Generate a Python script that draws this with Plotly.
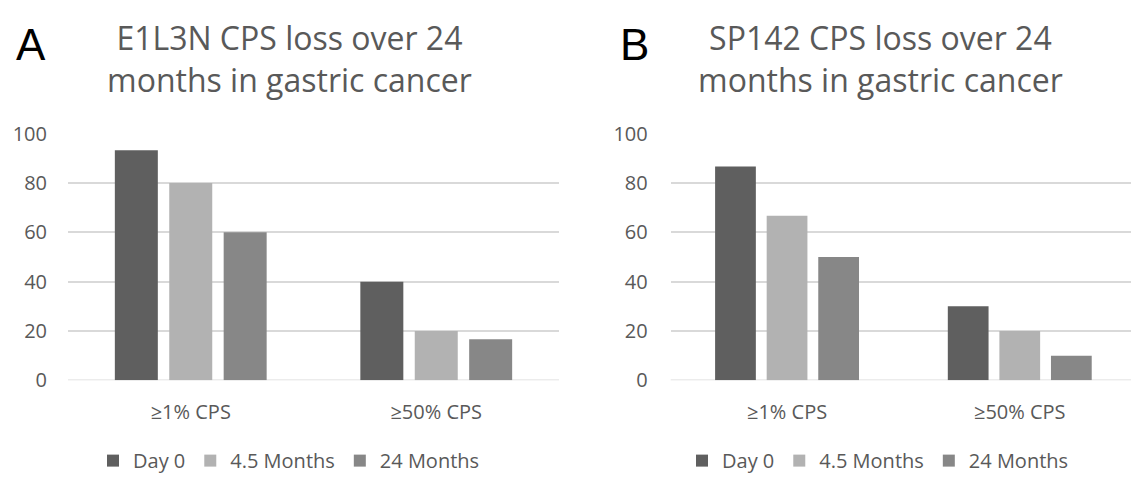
import plotly.graph_objects as go

W, H = 1131, 484

categories = ["≥1% CPS", "≥50% CPS"]
series_names = ["Day 0", "4.5 Months", "24 Months"]
series_colors = ["#5f5f5f", "#b2b2b2", "#878787"]

# E1L3N antibody (panel A)
e1l3n_day0 = [93.3, 40.0]
e1l3n_4_5m = [80.0, 20.0]
e1l3n_24m = [60.0, 16.7]

# SP142 antibody (panel B)
sp142_day0 = [86.7, 30.0]
sp142_4_5m = [66.7, 20.0]
sp142_24m = [50.0, 10.0]

y_ticks = [0, 20, 40, 60, 80, 100]

FONT = "Open Sans"
TXT = "#595959"
GRID = "#d9d9d9"

fig = go.Figure()

panels = [
    ("x", "y", "legend", [e1l3n_day0, e1l3n_4_5m, e1l3n_24m]),
    ("x2", "y2", "legend2", [sp142_day0, sp142_4_5m, sp142_24m]),
]
for xa, ya, leg, values in panels:
    for name, color, vals in zip(series_names, series_colors, values):
        fig.add_trace(go.Bar(
            x=categories, y=vals, name=name,
            marker=dict(color=color, line=dict(width=0)),
            xaxis=xa, yaxis=ya, legend=leg,
        ))


def px_x(v):
    return v / W


def px_y(v):
    return 1 - v / H


y_dom = [px_y(388), px_y(126.7)]

axis_common = dict(
    showline=False, zeroline=False, ticks="",
    tickfont=dict(family=FONT, size=20, color=TXT),
)

legend_common = dict(
    orientation="h", xanchor="center", yanchor="middle", y=px_y(473),
    font=dict(family=FONT, size=20, color=TXT), bgcolor="rgba(0,0,0,0)",
)

fig.update_layout(
    width=W, height=H,
    margin=dict(l=0, r=0, t=0, b=0),
    paper_bgcolor="white", plot_bgcolor="white",
    barmode="group", bargap=0.335, bargroupgap=0.21,
    font=dict(family=FONT, color=TXT),
    xaxis=dict(domain=[px_x(68), px_x(559)], anchor="y", type="category",
               range=[-0.5, 1.5], showgrid=False, ticklabelstandoff=18,
               **axis_common),
    yaxis=dict(domain=y_dom, anchor="x", range=[0, 100], tickvals=y_ticks,
               showgrid=True, gridcolor=GRID, gridwidth=1.5,
               ticklabelstandoff=20, **axis_common),
    xaxis2=dict(domain=[px_x(670.7), 1.0], anchor="y2", type="category",
                range=[-0.5, 1.478], showgrid=False, ticklabelstandoff=18,
                **axis_common),
    yaxis2=dict(domain=y_dom, anchor="x2", range=[0, 100], tickvals=y_ticks,
                showgrid=True, gridcolor=GRID, gridwidth=1.5,
                ticklabelstandoff=22, **axis_common),
    legend=dict(x=px_x(289), **legend_common),
    legend2=dict(x=px_x(878), **legend_common),
)

# baseline at zero
for xa, ya in (("x", "y"), ("x2", "y2")):
    fig.add_shape(type="line", xref=f"{xa} domain", yref=ya,
                  x0=0, x1=1, y0=0, y1=0,
                  line=dict(color=GRID, width=1.5), layer="below")

titles = [
    (289, "E1L3N CPS loss over 24<br>months in gastric cancer"),
    (880, "SP142 CPS loss over 24<br>months in gastric cancer"),
]
for cx, text in titles:
    fig.add_annotation(text=text, x=px_x(cx), y=px_y(47), xref="paper", yref="paper",
                       xanchor="center", yanchor="middle", showarrow=False,
                       font=dict(family=FONT, size=32, color=TXT))

for cx, letter in ((31, "A"), (635, "B")):
    fig.add_annotation(text=letter, x=px_x(cx), y=px_y(32), xref="paper", yref="paper",
                       xanchor="center", yanchor="middle", showarrow=False,
                       font=dict(family="Liberation Sans", size=44, color="#000000"))

fig.write_html("out.html")
